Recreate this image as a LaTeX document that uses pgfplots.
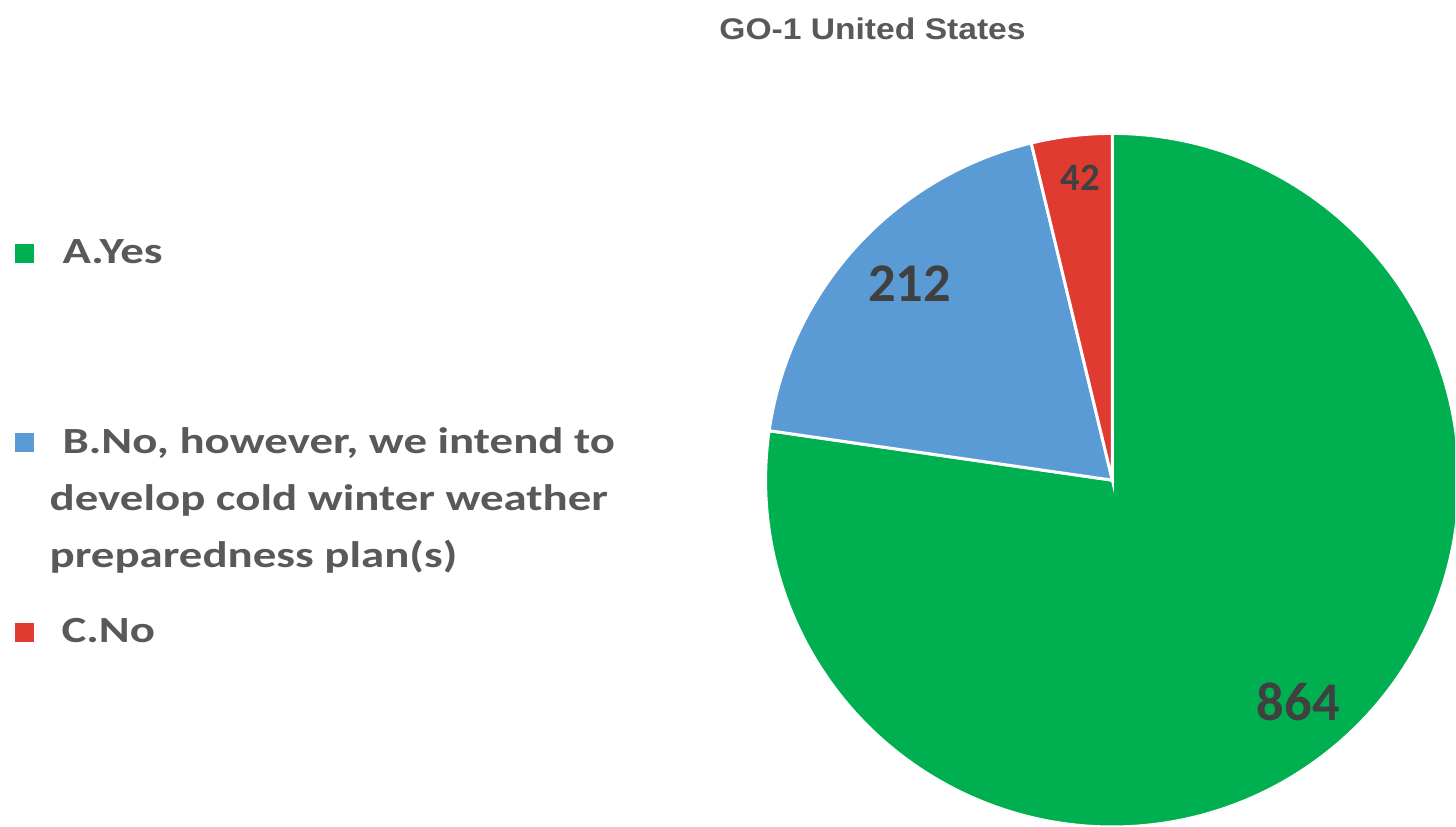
\documentclass[border=0pt]{standalone}
\usepackage{graphicx}
\usepackage{pgfplots}
\pgfplotsset{compat=1.18}
\usepackage{pgfplotstable}
\usepackage{fontspec}
\setmainfont{Carlito}
\newfontfamily\arialfont{Liberation Sans}
\definecolor{cA}{HTML}{00B050}
\definecolor{cB}{HTML}{5B9BD5}
\definecolor{cC}{HTML}{E03B30}
\definecolor{txt}{HTML}{595959}
\definecolor{lab}{HTML}{404040}
\newcommand\legtxt[1]{\scalebox{1.27}[1]{#1}}
\pgfplotstableread{
label value
A 864
B 212
C 42
}\piedata
\begin{document}
\begin{tikzpicture}
\pgfplotstablegetelem{0}{value}\of\piedata \let\vA\pgfplotsretval
\pgfplotstablegetelem{1}{value}\of\piedata \let\vB\pgfplotsretval
\pgfplotstablegetelem{2}{value}\of\piedata \let\vC\pgfplotsretval
\pgfmathsetmacro\tot{\vA+\vB+\vC}
\pgfmathsetmacro\aA{90}
\pgfmathsetmacro\aB{\aA-360*(\vA/\tot)}
\pgfmathsetmacro\aC{\aB-360*(\vB/\tot)}
\pgfmathsetmacro\aD{\aC-360*(\vC/\tot)}
\useasboundingbox (0,0) rectangle (14.56cm,8.26cm);
\begin{axis}[
  at={(0,0)}, anchor=south west,
  x=0.01cm, y=0.01cm,
  xmin=0, xmax=1456, ymin=0, ymax=826,
  hide axis, clip=true,
]
\addplot[fill=cA, draw=white, line width=0.85pt, domain=\aB:\aA, samples=200, variable=\t]
  ({1113+347*cos(\t)},{346+347*sin(\t)}) -- (axis cs:1113,346) -- cycle;
\addplot[fill=cB, draw=white, line width=0.85pt, domain=\aC:\aB, samples=80, variable=\t]
  ({1113+347*cos(\t)},{346+347*sin(\t)}) -- (axis cs:1113,346) -- cycle;
\addplot[fill=cC, draw=white, line width=0.85pt, domain=\aD:\aC, samples=30, variable=\t]
  ({1113+347*cos(\t)},{346+347*sin(\t)}) -- (axis cs:1113,346) -- cycle;
% value labels
\node[text=lab, font=\fontsize{15.5}{16}\selectfont\bfseries] at (axis cs:910,543) {212};
\node[text=lab, font=\fontsize{11}{12}\selectfont\bfseries] at (axis cs:1081,649) {42};
\node[text=lab, font=\fontsize{15.5}{16}\selectfont\bfseries] at (axis cs:1299,124) {864};
% title
\node[text=txt, font=\arialfont\fontsize{8.5}{9}\selectfont\bfseries] at (axis cs:873,798) {\scalebox{1.125}[1]{GO-1 United States}};
% legend
\fill[cA] (axis cs:15,563.5) rectangle (axis cs:34,582.5);
\fill[cB] (axis cs:15,374.5) rectangle (axis cs:34,393.5);
\fill[cC] (axis cs:15,184.5) rectangle (axis cs:34,203.5);
\begin{scope}[every node/.style={anchor=base west, inner sep=0pt, text=txt, font=\fontsize{10.5}{11}\selectfont\bfseries}]
\node at (axis cs:62,563) {\legtxt{A.Yes}};
\node at (axis cs:62,373) {\legtxt{B.No, however, we intend to}};
\node at (axis cs:49,316) {\legtxt{develop cold winter weather}};
\node at (axis cs:49,259) {\legtxt{preparedness plan(s)}};
\node at (axis cs:61,184) {\legtxt{C.No}};
\end{scope}
\end{axis}
\end{tikzpicture}
\end{document}
